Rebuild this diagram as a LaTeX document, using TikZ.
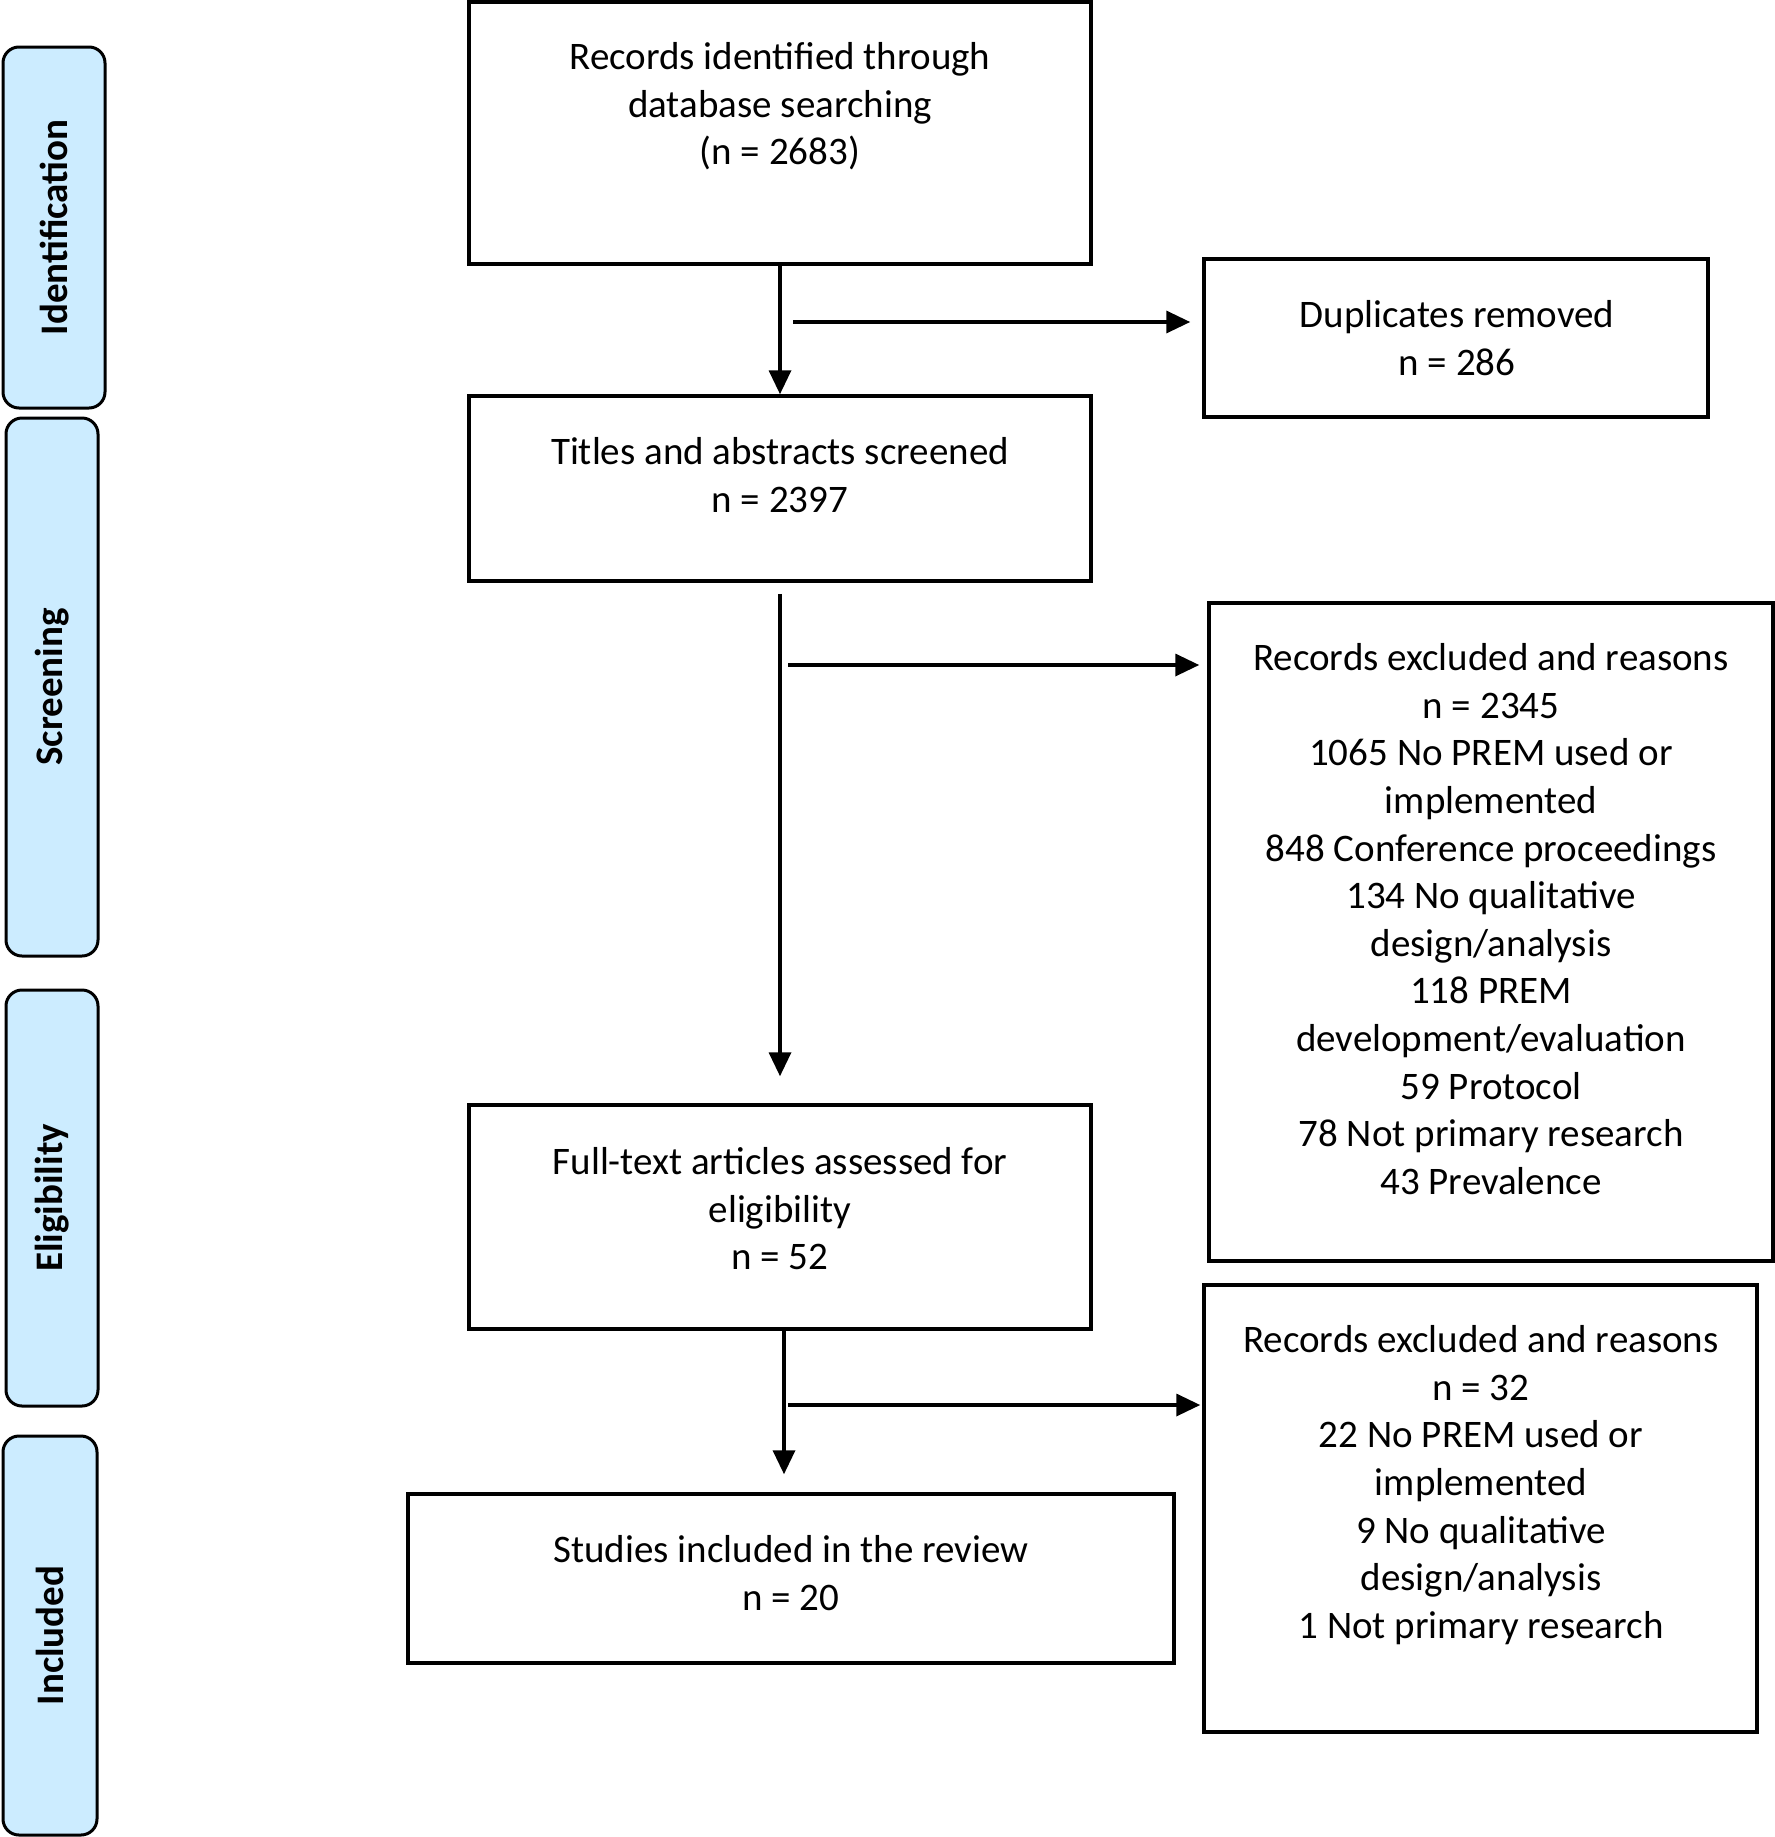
\documentclass[tikz,border=0pt]{standalone}
\usepackage{fontspec}
\setmainfont{Carlito}
\usetikzlibrary{arrows.meta}
\definecolor{phase}{RGB}{204,236,255}
\tikzset{
  box/.style={draw=black, line width=3.5pt, rectangle, inner sep=0pt},
  phasebox/.style={draw=black, line width=3pt, fill=phase, rounded corners=16pt, inner sep=0pt},
  txt/.style={anchor=north, align=center, inner sep=0pt, font=\fontsize{39}{47.6}\selectfont},
  phasetxt/.style={rotate=90, inner sep=0pt, font=\fontsize{39}{47.6}\selectfont\bfseries},
  arr/.style={line width=3.5pt, -{Triangle[length=24pt,width=22pt]}},
}
\begin{document}
\begin{tikzpicture}[x=1pt,y=-1pt]
\useasboundingbox (0,0) rectangle (1775,1837);
% phase boxes
\node[phasebox, minimum width=102pt, minimum height=361pt] (pid) at (54,227.5) {};
\node[phasebox, minimum width=92pt, minimum height=538pt] (psc) at (52,687) {};
\node[phasebox, minimum width=92pt, minimum height=416pt] (pel) at (52,1198) {};
\node[phasebox, minimum width=94pt, minimum height=399pt] (pin) at (50,1635.5) {};
\node[phasetxt] (lid) at (pid.center) {Identification};
\node[phasetxt] (lsc) at (psc.center) {Screening};
\node[phasetxt] (lel) at (pel.center) {Eligibility};
\node[phasetxt] (lin) at (pin.center) {Included};
% main boxes
\node[box, minimum width=622pt, minimum height=262pt] (b1) at (780,133) {};
\node[box, minimum width=504pt, minimum height=158pt] (dup) at (1456,338) {};
\node[box, minimum width=622pt, minimum height=185pt] (b2) at (780,488.5) {};
\node[box, minimum width=564pt, minimum height=658pt] (ex1) at (1491,932) {};
\node[box, minimum width=622pt, minimum height=224pt] (b3) at (780,1217) {};
\node[box, minimum width=553pt, minimum height=447pt] (ex2) at (1480.5,1508.5) {};
\node[box, minimum width=766pt, minimum height=169pt] (b4) at (791,1578.5) {};
% texts
\node[txt] (t1) at (780,36.2) {\strut Records identified through\\database searching\\(n = 2683)};
\node[txt] (t2) at (1457,294.2) {\strut Duplicates removed\\n = 286};
\node[txt] (t3) at (780,431.2) {\strut Titles and abstracts screened\\n = 2397};
\node[txt] (t4) at (1491,637.2) {\strut Records excluded and reasons\\n = 2345\\1065 No PREM used or\\implemented\\848 Conference proceedings\\134 No qualitative\\design/analysis\\118 PREM\\development/evaluation\\59 Protocol\\78 Not primary research\\43 Prevalence};
\node[txt] (t5) at (780,1141.2) {\strut Full-text articles assessed for\\eligibility\\n = 52};
\node[txt] (t6) at (1481,1319.2) {\strut Records excluded and reasons\\n = 32\\22 No PREM used or\\implemented\\9 No qualitative\\design/analysis\\1 Not primary research};
\node[txt] (t7) at (791,1529.2) {\strut Studies included in the review\\n = 20};
% connectors
\coordinate (c1) at (793,322);
\coordinate (c2) at (788,665);
\coordinate (c3) at (788,1405);
\draw[arr] (b1.south) -- (b2.north);
\draw[arr, shorten >=12pt] (c1) -- (c1 -| dup.west);
\draw[arr, shorten <=11pt, shorten >=27pt] (b2.south) -- (b3.north);
\draw[arr, shorten >=8pt] (c2) -- (c2 -| ex1.west);
\draw[arr, shorten >=18pt] ([xshift=4pt]b3.south) -- ([xshift=4pt]b3.south |- b4.north);
\draw[arr, shorten >=2pt] (c3) -- (c3 -| ex2.west);
\end{tikzpicture}
\end{document}
